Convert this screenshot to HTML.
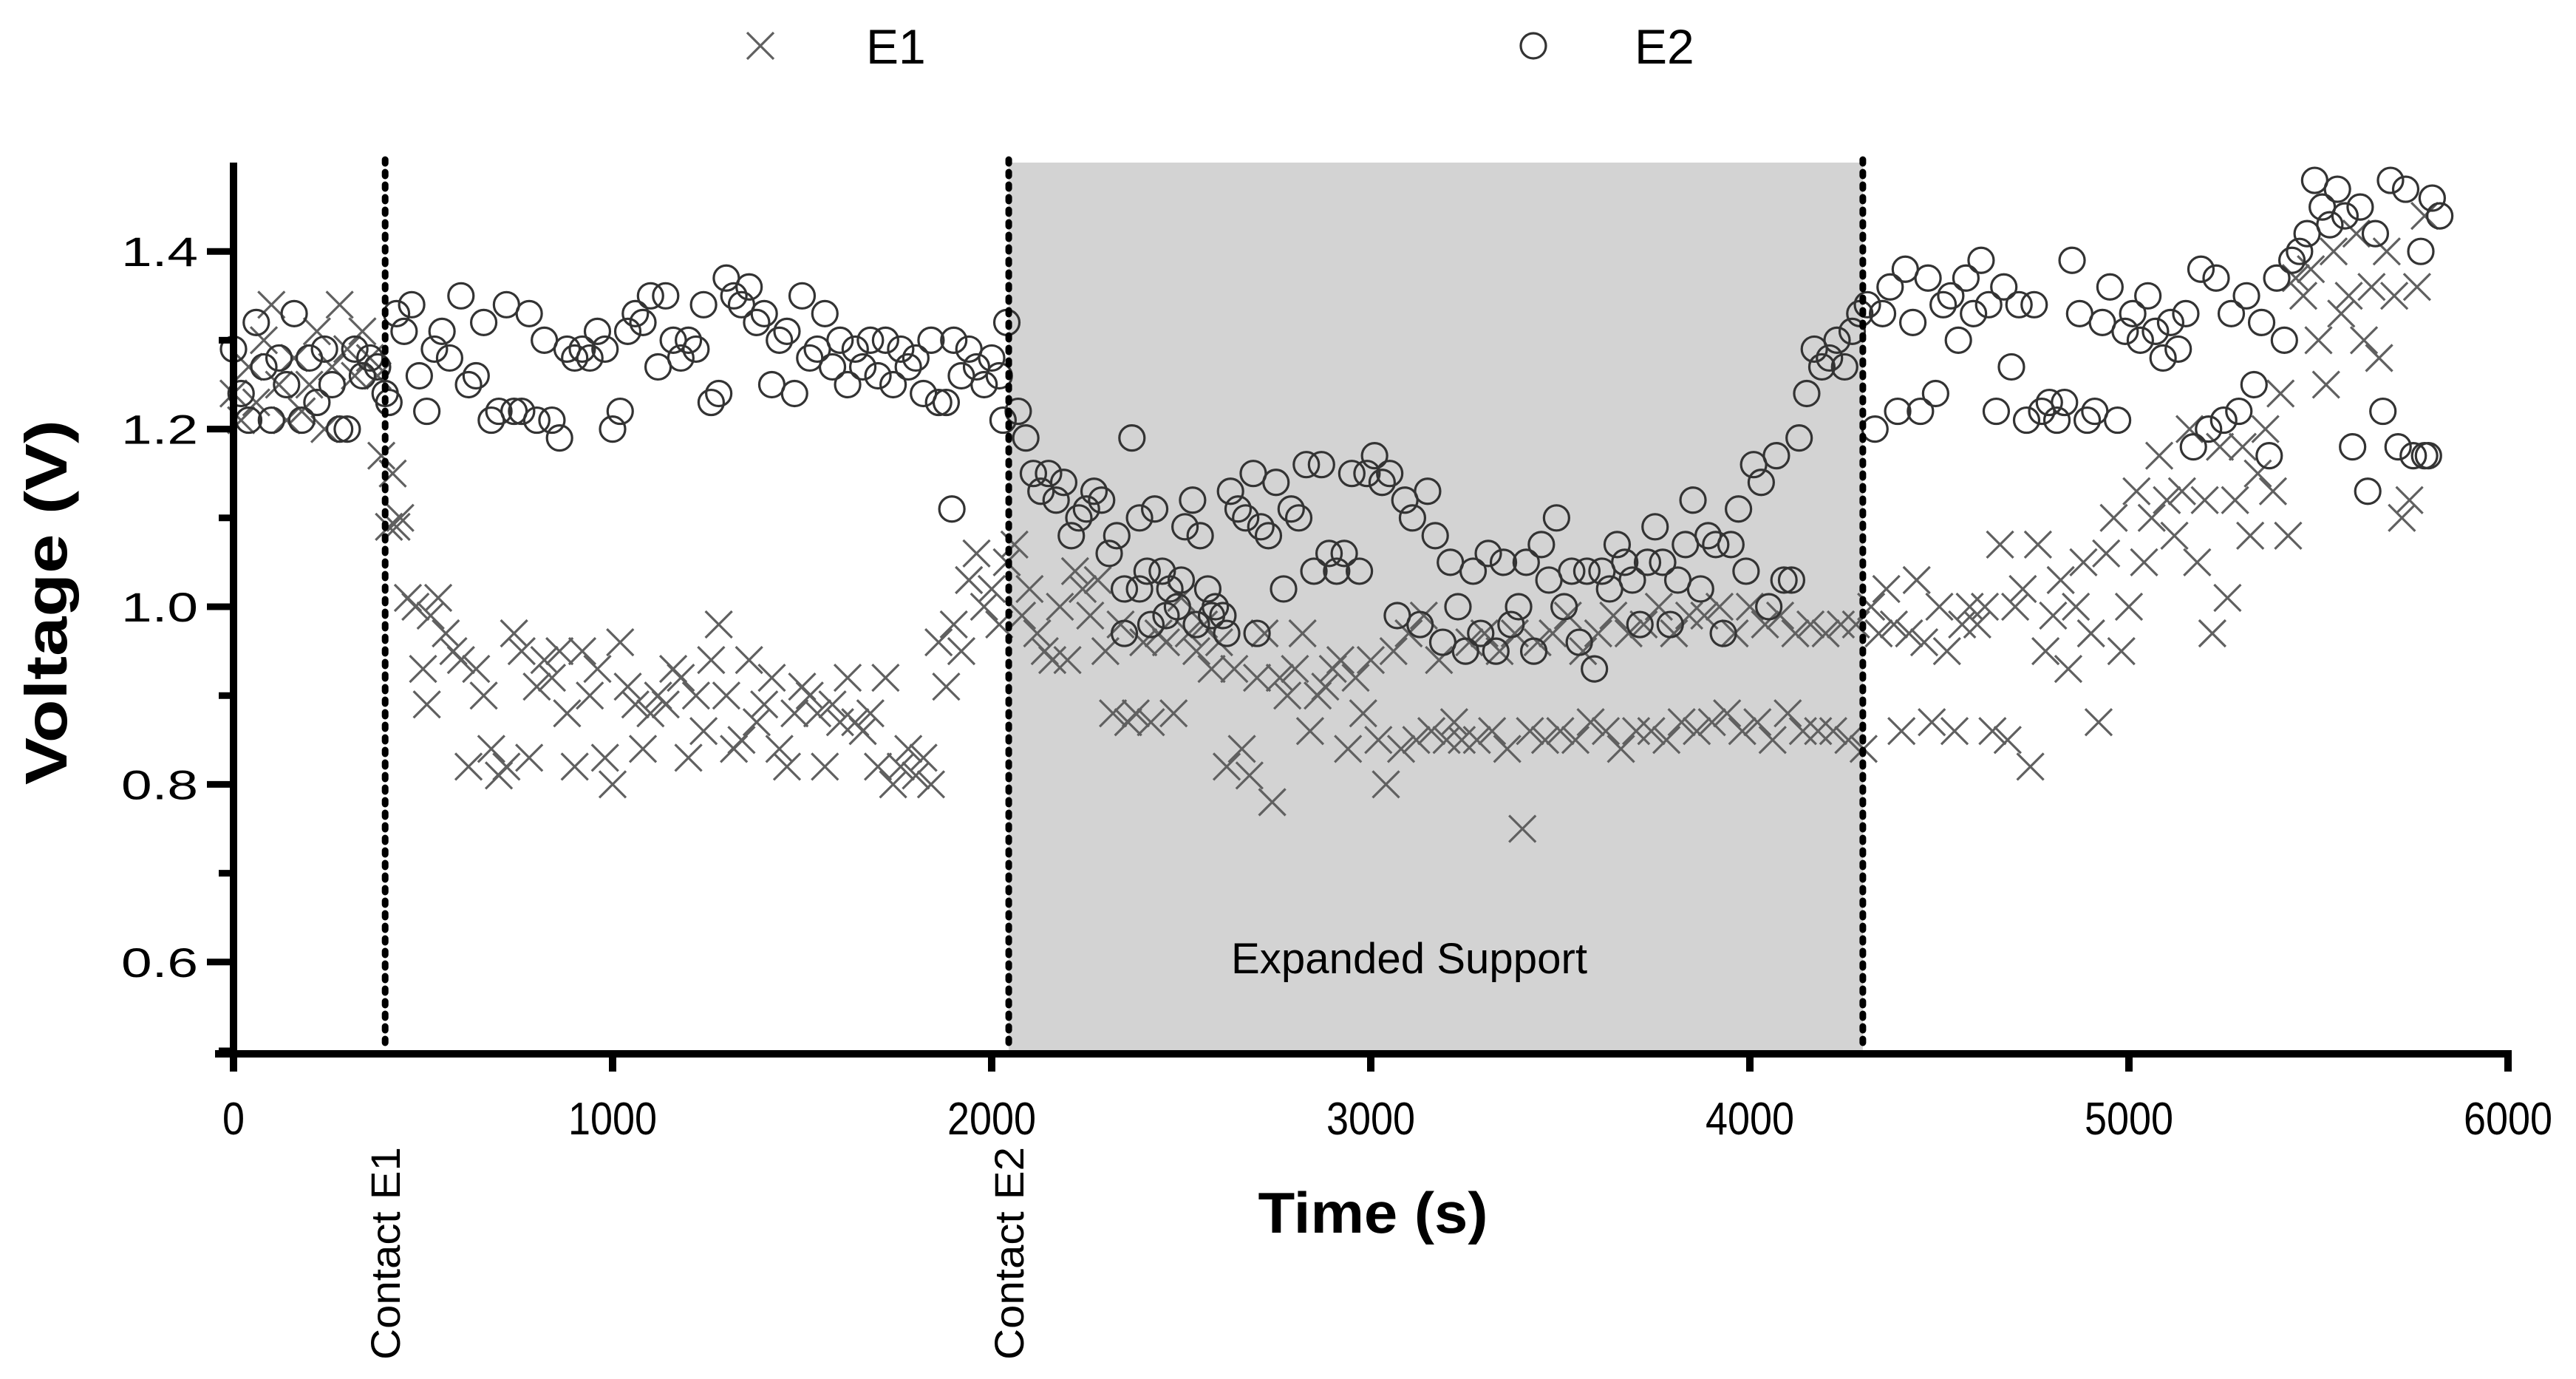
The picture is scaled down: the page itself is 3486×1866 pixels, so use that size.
<!DOCTYPE html>
<html><head><meta charset="utf-8"><style>
html,body{margin:0;padding:0;background:#fff;}
svg{display:block;font-family:"Liberation Sans",Arial,sans-serif;}
</style></head><body>
<svg id="chart" width="3486" height="1866" viewBox="0 0 3486 1866" xmlns="http://www.w3.org/2000/svg">
<rect x="0" y="0" width="3486" height="1866" fill="#fff"/>
<g id="shade"></g>
<g id="marks"></g>
<g id="axes"></g>
</svg>
<script>
const xTicks=[0,1000,2000,3000,4000,5000,6000];
const yMajor=[0.6,0.8,1.0,1.2,1.4];
const yMinor=[0.5,0.7,0.9,1.1,1.3];
const contactTimes=[400,2045,4298];
const contactLabels=["Contact E1","Contact E2"];
const regionStart=2045, regionEnd=4298;
const e2T=[0,20,40,60,80,100,120,140,160,180,200,220,240,260,280,300,320,340,360,380,400,
410,430,450,470,490,510,530,550,570,600,620,640,660,680,700,720,740,760,780,800,820,840,860,880,900,920,940,960,980,1000,1020,1040,1060,1080,1100,1120,1140,1160,1180,1200,1220,1240,1260,1280,1300,1320,1340,1360,1380,1400,1420,1440,1460,1480,1500,1520,1540,1560,1580,1600,1620,1640,1660,1680,1700,1720,1740,1760,1780,1800,1820,1840,1860,1880,1900,1920,1940,1960,1980,2000,2020,2040,2030,1895,
2070,2090,2110,2130,2150,2170,2190,2210,2230,2250,2270,2290,2310,2330,2350,2370,2390,2410,2430,2450,2470,2490,2510,2530,2550,2570,2590,2610,2630,2650,2670,2690,2710,2730,2750,2770,2790,2810,2830,2850,2870,2890,2910,2930,2950,2970,2990,3010,3030,3050,3070,3090,3110,3130,3150,3170,3190,3210,3230,3250,3270,3290,3310,3330,3350,3370,3390,3410,3430,3450,3470,3490,3510,3530,3550,3570,3590,3610,3630,3650,3670,3690,3710,3730,3750,3770,3790,3810,3830,3850,3870,3890,3910,3930,3950,3970,3990,4010,4030,4050,4070,4090,4110,4130,4150,4170,4190,4210,4230,4250,4270,4290,
2350,2390,2420,2460,2500,2540,2580,2620,2700,
4310,4330,4350,4370,4390,4410,4430,4450,4470,4490,4510,4530,4550,4570,4590,4610,4630,4650,4670,4690,4710,4730,4750,4770,4790,4810,4830,4850,4870,4890,4910,4930,4950,4970,4990,5010,5030,5050,5070,5090,5110,5130,5150,5170,5190,5210,5230,5250,5270,5290,5310,5330,5350,5370,5390,5410,5430,5450,5470,5490,5510,5530,5550,5570,5590,5610,5630,5650,5670,5690,5710,5730,5750,5770,5790,5800,5820,5780];
const e2V=[1.29,1.24,1.21,1.32,1.27,1.21,1.28,1.25,1.33,1.21,1.28,1.23,1.29,1.25,1.20,1.20,1.29,1.26,1.28,1.27,1.24,
1.23,1.33,1.31,1.34,1.26,1.22,1.29,1.31,1.28,1.35,1.25,1.26,1.32,1.21,1.22,1.34,1.22,1.22,1.33,1.21,1.30,1.21,1.19,1.29,1.28,1.29,1.28,1.31,1.29,1.20,1.22,1.31,1.33,1.32,1.35,1.27,1.35,1.30,1.28,1.30,1.29,1.34,1.23,1.24,1.37,1.35,1.34,1.36,1.32,1.33,1.25,1.30,1.31,1.24,1.35,1.28,1.29,1.33,1.27,1.30,1.25,1.29,1.27,1.30,1.26,1.30,1.25,1.29,1.27,1.28,1.24,1.30,1.23,1.23,1.30,1.26,1.29,1.27,1.25,1.28,1.26,1.32,1.21,1.11,
1.22,1.19,1.15,1.13,1.15,1.12,1.14,1.08,1.10,1.11,1.13,1.12,1.06,1.08,1.02,1.19,1.10,1.04,1.11,1.04,1.02,1.00,1.09,1.12,1.08,1.02,1.00,0.99,1.13,1.11,1.10,1.15,1.09,1.08,1.14,1.02,1.11,1.10,1.16,1.04,1.16,1.06,1.04,1.06,1.15,1.04,1.15,1.17,1.14,1.15,0.99,1.12,1.10,0.98,1.13,1.08,0.96,1.05,1.00,0.95,1.04,0.97,1.06,0.95,1.05,0.98,1.00,1.05,0.95,1.07,1.03,1.10,1.00,1.04,0.96,1.04,0.93,1.04,1.02,1.07,1.05,1.03,0.98,1.05,1.09,1.05,0.98,1.03,1.07,1.12,1.02,1.08,1.07,0.97,1.07,1.11,1.04,1.16,1.14,1.00,1.17,1.03,1.03,1.19,1.24,1.29,1.27,1.28,1.30,1.27,1.31,1.33,
0.97,1.02,0.98,0.99,1.03,0.98,0.99,0.97,0.97,
1.34,1.20,1.33,1.36,1.22,1.38,1.32,1.22,1.37,1.24,1.34,1.35,1.30,1.37,1.33,1.39,1.34,1.22,1.36,1.27,1.34,1.21,1.34,1.22,1.23,1.21,1.23,1.39,1.33,1.21,1.22,1.32,1.36,1.21,1.31,1.33,1.30,1.35,1.31,1.28,1.32,1.29,1.33,1.18,1.38,1.20,1.37,1.21,1.33,1.22,1.35,1.25,1.32,1.17,1.37,1.30,1.39,1.40,1.42,1.48,1.45,1.43,1.47,1.44,1.18,1.45,1.13,1.42,1.22,1.48,1.18,1.47,1.17,1.40,1.17,1.46,1.44,1.17];
const e1T=[0,20,40,60,80,100,120,140,160,180,200,220,240,260,280,300,320,340,360,380,390,420,410,440,430,
460,480,500,510,520,540,560,580,600,620,640,660,680,700,720,740,760,780,800,820,840,860,880,900,920,940,960,980,1000,1020,1040,1060,1080,1100,1120,1140,1160,1180,1200,1220,1240,1260,1280,1300,1320,1340,1360,1380,1400,1420,1440,1460,1480,1500,1520,1540,1560,1580,1600,1620,1640,1660,1680,1700,1720,1740,1760,1780,1800,1820,1840,1860,1880,1900,1920,1940,1960,1980,2000,2020,2040,
2060,2080,2100,2120,2140,2160,2180,2200,2220,2240,2260,2280,2300,2320,2340,2360,2380,2400,2420,2440,2460,2480,2500,2520,2540,2560,2580,2600,2620,2640,2660,2680,2700,2720,2740,2760,2780,2800,2820,2840,2860,2880,2900,2920,2940,2960,2980,3000,3020,3040,3060,3080,3100,3120,3140,3160,3180,3200,3220,3240,3260,3280,3300,3320,3340,3360,3380,3400,3420,3440,3460,3480,3500,3520,3540,3560,3580,3600,3620,3640,3660,3680,3700,3720,3740,3760,3780,3800,3820,3840,3860,3880,3900,3920,3940,3960,3980,4000,4020,4040,4060,4080,4100,4120,4140,4160,4180,4200,4220,4240,4260,4280,4300,
4320,4340,4360,4380,4400,4420,4440,4460,4480,4500,4520,4540,4560,4580,4600,4620,4640,4660,4680,4700,4720,4740,4760,4780,4800,4820,4840,4860,4880,4900,4920,4940,4960,4980,5000,5020,5040,5060,5080,5100,5120,5140,5160,5180,5200,5220,5240,5260,5280,5300,5320,5340,5360,5380,5400,5420,5440,5460,5480,5500,5520,5540,5560,5580,5600,5620,5640,5660,5680,5700,5720,5740,5760,5780];
const e1V=[1.24,1.21,1.27,1.23,1.30,1.34,1.25,1.21,1.28,1.22,1.25,1.31,1.20,1.27,1.34,1.29,1.26,1.31,1.28,1.26,1.17,1.15,1.09,1.10,1.09,
1.01,1.00,0.93,0.89,0.99,1.01,0.97,0.95,0.94,0.82,0.93,0.90,0.84,0.81,0.82,0.97,0.95,0.83,0.91,0.94,0.92,0.95,0.88,0.82,0.95,0.90,0.93,0.83,0.80,0.96,0.91,0.89,0.84,0.88,0.90,0.89,0.93,0.92,0.83,0.90,0.86,0.94,0.98,0.90,0.84,0.85,0.94,0.87,0.89,0.92,0.84,0.82,0.88,0.91,0.90,0.88,0.82,0.89,0.87,0.92,0.87,0.86,0.88,0.82,0.92,0.80,0.82,0.84,0.81,0.83,0.80,0.96,0.91,0.98,0.95,1.03,1.06,1.00,1.02,0.98,1.05,
1.07,0.99,1.02,0.97,0.95,0.94,1.00,0.94,1.04,1.02,0.99,1.03,0.95,0.88,0.98,0.87,0.88,0.96,0.87,0.97,0.96,0.88,1.01,0.97,0.95,0.98,0.93,0.96,0.82,0.93,0.84,0.81,0.92,0.97,0.78,0.92,0.90,0.93,0.97,0.86,0.90,0.91,0.93,0.94,0.84,0.92,0.88,0.94,0.85,0.80,0.95,0.84,0.97,0.85,0.99,0.86,0.94,0.85,0.87,0.85,0.96,0.85,0.97,0.86,0.95,0.84,0.97,0.75,0.86,0.96,0.85,0.97,0.86,0.99,0.85,0.95,0.87,0.97,0.86,0.99,0.84,0.97,0.86,0.98,0.86,1.00,0.85,0.97,0.87,0.99,0.86,0.99,0.87,1.00,0.88,0.97,0.86,1.00,0.87,0.98,0.85,0.99,0.88,0.97,0.86,0.98,0.86,0.97,0.86,0.98,0.85,0.98,0.84,
1.00,0.97,1.02,0.98,0.86,0.97,1.03,0.96,0.87,1.00,0.95,0.86,0.98,1.00,0.98,1.00,0.86,1.07,0.85,1.00,1.02,0.82,1.07,0.95,0.99,1.03,0.93,1.00,1.05,0.97,0.87,1.06,1.10,0.95,1.00,1.13,1.05,1.10,1.17,1.12,1.08,1.13,1.20,1.05,1.12,0.97,1.18,1.01,1.12,1.18,1.08,1.15,1.20,1.13,1.24,1.08,1.37,1.35,1.38,1.30,1.25,1.40,1.33,1.35,1.42,1.30,1.36,1.28,1.40,1.35,1.10,1.12,1.36,1.44];

const NS="http://www.w3.org/2000/svg";
const X0=316, XS=0.513, Y05=1422, YS=1202;
function xs(t){return X0+t*XS;}
function ys(v){return Y05-(v-0.5)*YS;}
function mk(tag,attrs,parent){const e=document.createElementNS(NS,tag);for(const k in attrs)e.setAttribute(k,attrs[k]);parent.appendChild(e);return e;}
const shade=document.getElementById('shade'), marks=document.getElementById('marks'), axes=document.getElementById('axes');

const reg=mk('rect',{x:xs(regionStart),y:ys(1.5),width:xs(regionEnd)-xs(regionStart),height:ys(0.5)-ys(1.5),fill:'#d3d3d3'},shade);


const rl=mk('text',{x:1907,y:1317,'font-size':58,'text-anchor':'middle',fill:'#000',textLength:482,lengthAdjust:'spacingAndGlyphs'},shade);
rl.textContent='Expanded Support';



for(let i=0;i<e1T.length;i++){
  const cx=xs(e1T[i]), cy=ys(e1V[i]), h=18;
  const p=mk('path',{d:`M${cx-h},${cy-h}L${cx+h},${cy+h}M${cx-h},${cy+h}L${cx+h},${cy-h}`,stroke:'#606060','stroke-width':3.2,fill:'none'},marks);
  
  
}
for(let i=0;i<e2T.length;i++){
  const c=mk('circle',{cx:xs(e2T[i]),cy:ys(e2V[i]),r:17,stroke:'#333','stroke-width':3.2,fill:'none'},marks);
  
  
}

contactTimes.forEach(t=>{
  const l=mk('line',{x1:xs(t),x2:xs(t),y1:ys(1.5)-4,y2:ys(0.5),stroke:'#000','stroke-width':9,'stroke-dasharray':'5 12','stroke-linecap':'round'},axes);
  
  
});
contactLabels.forEach((s,i)=>{
  const x=xs(contactTimes[i])+20;
  const t=mk('text',{x:x,y:1840,'font-size':56,transform:`rotate(-90 ${x} 1840)`,fill:'#000',textLength:288,lengthAdjust:'spacingAndGlyphs'},axes);
  t.textContent=s;
  
  
});

const ya=mk('line',{x1:X0,x2:X0,y1:ys(1.5),y2:1450,stroke:'#000','stroke-width':10},axes);


const xa=mk('line',{x1:291,x2:xs(6000)+5,y1:1426,y2:1426,stroke:'#000','stroke-width':10},axes);



xTicks.forEach(t=>{
  const tk=mk('line',{x1:xs(t),x2:xs(t),y1:1426,y2:1450,stroke:'#000','stroke-width':10},axes);
  
  
  const s=String(t);
  const lb=mk('text',{x:xs(t),y:1535,'font-size':62,'text-anchor':'middle',fill:'#000',textLength:30*s.length,lengthAdjust:'spacingAndGlyphs'},axes);
  lb.textContent=s;
  
  
});
yMajor.forEach(v=>{
  const tk=mk('line',{x1:280,x2:X0,y1:ys(v),y2:ys(v),stroke:'#000','stroke-width':9},axes);
  
  
  const lb=mk('text',{x:268,y:ys(v)+20,'font-size':56,'text-anchor':'end',fill:'#000',textLength:104,lengthAdjust:'spacingAndGlyphs'},axes);
  lb.textContent=v.toFixed(1);
  
  
});
yMinor.forEach(v=>{
  const tk=mk('line',{x1:296,x2:X0,y1:ys(v),y2:ys(v),stroke:'#000','stroke-width':9},axes);
  
  
});

const yt=mk('text',{x:90,y:815,'font-size':80,'font-weight':'bold','text-anchor':'middle',transform:'rotate(-90 90 815)',fill:'#000',textLength:494,lengthAdjust:'spacingAndGlyphs'},axes);
yt.textContent='Voltage (V)';


const xt=mk('text',{x:1858,y:1668,'font-size':78,'font-weight':'bold','text-anchor':'middle',fill:'#000',textLength:311,lengthAdjust:'spacingAndGlyphs'},axes);
xt.textContent='Time (s)';



// legend
const lg=mk('g',{},axes);


const lx=mk('path',{d:'M1011,44L1047,80M1011,80L1047,44',stroke:'#606060','stroke-width':3.2,fill:'none'},lg);


const l1=mk('text',{x:1172,y:86,'font-size':66,fill:'#000'},lg);
l1.textContent='E1';


const lc=mk('circle',{cx:2075,cy:62,r:17,stroke:'#333','stroke-width':3.2,fill:'none'},lg);


const l2=mk('text',{x:2212,y:86,'font-size':66,fill:'#000'},lg);
l2.textContent='E2';


</script>
</body></html>
